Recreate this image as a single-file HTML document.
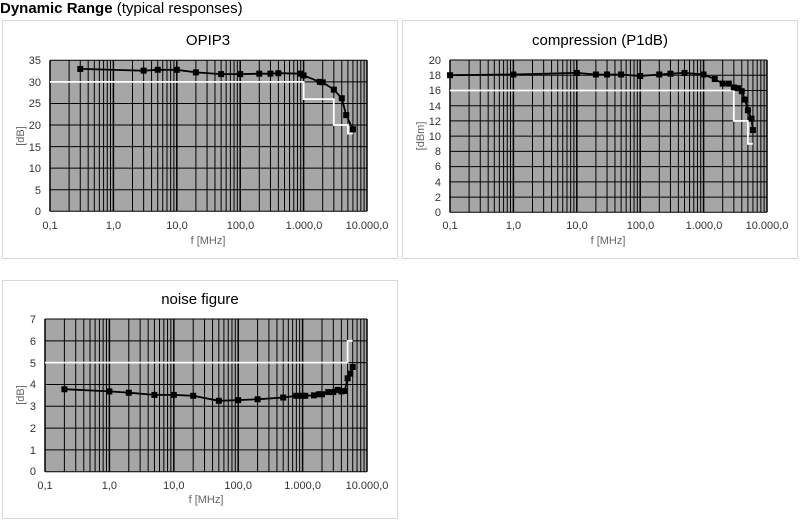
<!DOCTYPE html>
<html><head><meta charset="utf-8"><style>
body{margin:0;background:#fff;width:800px;height:520px;overflow:hidden;font-family:"Liberation Sans",Arial,sans-serif}
svg{position:absolute;left:0;top:0}
.t{font-size:11px;fill:#333}
.h{font-size:15px;fill:#000}
.a{font-size:11px;fill:#666}
</style></head><body>
<svg id="s" width="800" height="520" xmlns="http://www.w3.org/2000/svg">
<text x="0" y="13" style="font-size:15px"><tspan font-weight="bold">Dynamic Range</tspan> (typical responses)</text>
<rect x="2.5" y="20.5" width="395" height="238" fill="none" stroke="#d9d9d9"/>
<rect x="402.5" y="20.5" width="395" height="238" fill="none" stroke="#d9d9d9"/>
<rect x="2.5" y="280.5" width="395" height="238" fill="none" stroke="#d9d9d9"/>
<text class="h" x="208" y="45" text-anchor="middle">OPIP3</text>
<text class="h" x="600" y="45" text-anchor="middle">compression (P1dB)</text>
<text class="h" x="200" y="304" text-anchor="middle">noise figure</text>
<g class="t" text-anchor="end">
<text x="41" y="64">35</text><text x="41" y="86">30</text><text x="41" y="107">25</text><text x="41" y="129">20</text><text x="41" y="151">15</text><text x="41" y="172">10</text><text x="41" y="194">5</text><text x="41" y="215">0</text>
<text x="441" y="64">20</text><text x="441" y="79">18</text><text x="441" y="94">16</text><text x="441" y="110">14</text><text x="441" y="125">12</text><text x="441" y="140">10</text><text x="441" y="155">8</text><text x="441" y="170">6</text><text x="441" y="186">4</text><text x="441" y="201">2</text><text x="441" y="216">0</text>
<text x="36" y="323">7</text><text x="36" y="345">6</text><text x="36" y="367">5</text><text x="36" y="388">4</text><text x="36" y="410">3</text><text x="36" y="432">2</text><text x="36" y="454">1</text><text x="36" y="475">0</text>
</g>
<g class="t" text-anchor="middle">
<text x="50" y="229">0,1</text><text x="113.5" y="229">1,0</text><text x="177" y="229">10,0</text><text x="240.5" y="229">100,0</text><text x="304" y="229">1.000,0</text><text x="367" y="229">10.000,0</text>
<text x="450" y="229">0,1</text><text x="513.5" y="229">1,0</text><text x="577" y="229">10,0</text><text x="640.5" y="229">100,0</text><text x="704" y="229">1.000,0</text><text x="767" y="229">10.000,0</text>
<text x="45" y="489">0,1</text><text x="109.4" y="489">1,0</text><text x="173.8" y="489">10,0</text><text x="238.2" y="489">100,0</text><text x="302.6" y="489">1.000,0</text><text x="367" y="489">10.000,0</text>
</g>
<text class="a" x="208" y="244" text-anchor="middle">f [MHz]</text>
<text class="a" x="608" y="244" text-anchor="middle">f [MHz]</text>
<text class="a" x="206" y="503" text-anchor="middle">f [MHz]</text>
<text class="a" transform="translate(24,136) rotate(-90)" text-anchor="middle">[dB]</text>
<text class="a" transform="translate(424,136) rotate(-90)" text-anchor="middle">[dBm]</text>
<text class="a" transform="translate(24,395) rotate(-90)" text-anchor="middle">[dB]</text>
<g id="g"></g>
</svg>
<script>
var g=document.getElementById('g'),NS='http://www.w3.org/2000/svg';
function el(n,a){var e=document.createElementNS(NS,n);for(var k in a)e.setAttribute(k,a[k]);g.appendChild(e);return e;}
function chart(x0,x1,y0,y1,ymax,ystep,data,lim){
 el('rect',{x:x0,y:y0,width:x1-x0,height:y1-y0,fill:'#a6a6a6'});
 var X=function(f){return x0+(Math.log10(f)+1)/5*(x1-x0)};
 var Y=function(v){return y1-v/ymax*(y1-y0)};
 for(var d=-1;d<4;d++)for(var m=1;m<10;m++){var x=X(m*Math.pow(10,d));el('line',{x1:x,x2:x,y1:y0,y2:y1,stroke:'#000','stroke-width':m==1?1.5:1});}
 el('line',{x1:x1,x2:x1,y1:y0,y2:y1,stroke:'#000','stroke-width':1.5});
 for(var v=0;v<=ymax+1e-9;v+=ystep){var y=Y(v);el('line',{x1:x0,x2:x1,y1:y,y2:y,stroke:'#000','stroke-width':1});}
 var p='';for(var i=0;i<lim.length;i++)p+=(i?'L':'M')+X(lim[i][0]).toFixed(1)+','+Y(lim[i][1]).toFixed(1);
 el('path',{d:p,fill:'none',stroke:'#fff','stroke-width':1.8});
 p='';for(i=0;i<data.length;i++)p+=(i?'L':'M')+X(data[i][0]).toFixed(1)+','+Y(data[i][1]).toFixed(1);
 el('path',{d:p,fill:'none',stroke:'#000','stroke-width':1.8});
 for(i=0;i<data.length;i++)el('rect',{x:X(data[i][0])-3,y:Y(data[i][1])-3,width:6,height:6,fill:'#000'});
}
chart(50,367,60.3,211.3,35,5,
[[0.3,33],[3,32.6],[5,32.8],[10,32.8],[20,32.2],[50,31.8],[100,31.8],[200,31.9],[300,31.9],[400,32],[900,31.9],[1000,31.5],[1800,30],[2000,29.9],[3000,28.2],[4000,26.2],[4700,22.3],[6000,19]],
[[0.1,30],[1000,30],[1000,26],[3000,26],[3000,20],[5000,20],[5000,18],[6000,18]]);
chart(450,767,60,212.3,20,2,
[[0.1,18],[1,18.1],[10,18.3],[20,18.1],[30,18.1],[50,18.1],[100,17.9],[200,18.1],[300,18.2],[500,18.3],[1000,18.1],[1500,17.5],[2000,16.9],[2500,16.9],[3000,16.4],[3500,16.3],[4000,15.9],[4500,14.8],[5000,13.4],[5700,12.3],[6000,10.8]],
[[0.1,16],[3000,16],[3000,12],[5000,12],[5000,9],[6000,9]]);
chart(45,367,319,471.7,7,1,
[[0.2,3.78],[1,3.68],[2,3.62],[5,3.52],[10,3.52],[20,3.48],[50,3.25],[100,3.28],[200,3.32],[500,3.4],[800,3.48],[1000,3.48],[1100,3.48],[1500,3.5],[1800,3.55],[2000,3.55],[2500,3.65],[3000,3.65],[3500,3.75],[4000,3.68],[4500,3.7],[5000,4.28],[5500,4.5],[6000,4.8]],
[[0.1,5],[5000,5],[5000,6],[6000,6]]);
</script>
</body></html>
